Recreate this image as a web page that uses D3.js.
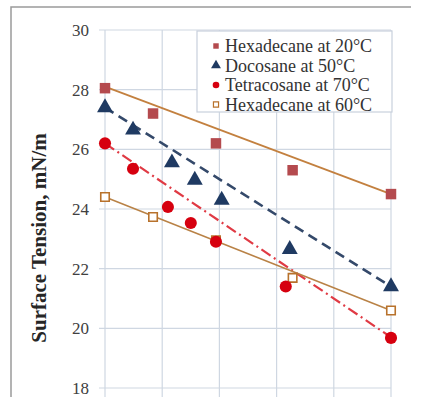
<!DOCTYPE html>
<html>
<head>
<meta charset="utf-8">
<script src="https://cdn.jsdelivr.net/npm/d3@7"></script>
<style>
  body { margin: 0; background: #fff; }
  svg { display: block; }
  text { font-family: "Liberation Serif", "DejaVu Serif", serif; }
</style>
</head>
<body>
<div id="chart"></div>
<script>
// Data
const seriesNames = ['Hexadecane at 20\u00b0C', 'Docosane at 50\u00b0C', 'Tetracosane at 70\u00b0C', 'Hexadecane at 60\u00b0C'];

const hex20X = [0, 0.84, 1.94, 3.28, 5];
const hex20Y = [28.05, 27.2, 26.2, 25.3, 24.5];

const docoX = [0, 0.49, 1.17, 1.57, 2.04, 3.23, 5];
const docoY = [27.4, 26.65, 25.55, 24.97, 24.3, 22.65, 21.4];

const tetraX = [0, 0.49, 1.1, 1.5, 1.94, 3.16, 5];
const tetraY = [26.2, 25.35, 24.07, 23.53, 22.9, 21.4, 19.68];

const hex60X = [0, 0.84, 1.94, 3.28, 5];
const hex60Y = [24.4, 23.73, 22.95, 21.69, 20.6];

// trend line end values (at x = 0 and x = 5)
const trendX = [0, 5];
const hex20Trend = [28.1, 24.5];
const docoTrend = [27.4, 21.4];
const tetraTrend = [26.2, 19.7];
const hex60Trend = [24.4, 20.6];

const yTicks = [18, 20, 22, 24, 26, 28, 30];
const xTicks = [0, 1, 2, 3, 4, 5];

const width = 423;
const height = 397;
const margin = {top: 30, right: 32, bottom: 9, left: 105};

const svg = d3.select('#chart')
    .append('svg')
    .attr('width', width)
    .attr('height', height);

// outer frame (top and left edges visible)
svg.append('path')
    .attr('d', 'M11,397 V7 H411')
    .attr('fill', 'none')
    .attr('stroke', '#9a9a9a')
    .attr('stroke-width', 1.5);

const x = d3.scaleLinear().domain([0, 5]).range([margin.left, width - margin.right]);
const y = d3.scaleLinear().domain([18, 30]).range([height - margin.bottom, margin.top]);

// grid
svg.append('g')
    .selectAll('line')
    .data(yTicks)
    .join('line')
    .attr('x1', x(0) - 6)
    .attr('x2', x(5))
    .attr('y1', d => y(d))
    .attr('y2', d => y(d))
    .attr('stroke', '#cfd7e2')
    .attr('stroke-width', 1.2);

svg.append('g')
    .selectAll('line')
    .data(xTicks)
    .join('line')
    .attr('x1', d => x(d))
    .attr('x2', d => x(d))
    .attr('y1', y(30))
    .attr('y2', height)
    .attr('stroke', '#cfd7e2')
    .attr('stroke-width', 1.2);

// y tick labels
svg.append('g')
    .selectAll('text')
    .data(yTicks)
    .join('text')
    .attr('x', x(0) - 16)
    .attr('y', d => y(d))
    .attr('dy', '0.35em')
    .attr('text-anchor', 'end')
    .attr('font-size', 17)
    .attr('fill', '#404040')
    .text(d => d);

// y axis title
svg.append('text')
    .attr('transform', 'translate(46,238) rotate(-90)')
    .attr('text-anchor', 'middle')
    .attr('font-size', 21)
    .attr('font-weight', 'bold')
    .attr('fill', '#262626')
    .text('Surface Tension, mN/m');

// trend lines
const trends = [
    {v: hex20Trend, color: '#c3803f', w: 1.8, dash: null},
    {v: docoTrend, color: '#34496a', w: 2.6, dash: '10,6'},
    {v: tetraTrend, color: '#e03a44', w: 2.2, dash: '11,4,2,4'},
    {v: hex60Trend, color: '#b98246', w: 1.5, dash: null}
];

const line = d3.line().x(d => x(d[0])).y(d => y(d[1]));

svg.append('g')
    .selectAll('path')
    .data(trends)
    .join('path')
    .attr('d', d => line(trendX.map((t, i) => [t, d.v[i]])))
    .attr('fill', 'none')
    .attr('stroke', d => d.color)
    .attr('stroke-width', d => d.w)
    .attr('stroke-dasharray', d => d.dash);

// markers
const sym = {
    square: d3.symbol().type(d3.symbolSquare).size(110),
    triangle: d3.symbol().type(d3.symbolTriangle).size(110),
    circle: d3.symbol().type(d3.symbolCircle).size(115),
    open: d3.symbol().type(d3.symbolSquare).size(72)
};

const series = [
    {xs: hex20X, ys: hex20Y, shape: 'square', fill: '#b44a4e', stroke: 'none'},
    {xs: docoX, ys: docoY, shape: 'triangle', fill: '#1f3a62', stroke: 'none'},
    {xs: hex60X, ys: hex60Y, shape: 'open', fill: '#fff', stroke: '#b8722c'},
    {xs: tetraX, ys: tetraY, shape: 'circle', fill: '#d6000f', stroke: 'none'}
];

series.forEach(s => {
    svg.append('g')
        .selectAll('path')
        .data(s.xs.map((v, i) => [v, s.ys[i]]))
        .join('path')
        .attr('transform', d => `translate(${x(d[0])},${y(d[1])})`)
        .attr('d', sym[s.shape]())
        .attr('fill', s.fill)
        .attr('stroke', s.stroke)
        .attr('stroke-width', 1.6);
});

// legend
const legend = svg.append('g').attr('transform', 'translate(197,31)');
legend.append('rect')
    .attr('width', 195)
    .attr('height', 81)
    .attr('fill', '#fff')
    .attr('stroke', '#c8d0dc')
    .attr('stroke-width', 1.2);

const legendItems = [
    {shape: 'square', fill: '#b44a4e', stroke: 'none', scale: 0.52},
    {shape: 'triangle', fill: '#1f3a62', stroke: 'none', scale: 0.62},
    {shape: 'circle', fill: '#d6000f', stroke: 'none', scale: 0.55},
    {shape: 'open', fill: '#fff', stroke: '#b8722c', scale: 0.6}
];

const rows = legend.selectAll('g.row')
    .data(seriesNames)
    .join('g')
    .attr('class', 'row')
    .attr('transform', (d, i) => `translate(0,${15 + i * 19.5})`);

rows.append('path')
    .attr('transform', (d, i) => `translate(19,0) scale(${legendItems[i].scale})`)
    .attr('d', (d, i) => sym[legendItems[i].shape]())
    .attr('fill', (d, i) => legendItems[i].fill)
    .attr('stroke', (d, i) => legendItems[i].stroke)
    .attr('stroke-width', 2);

rows.append('text')
    .attr('x', 28)
    .attr('dy', '0.35em')
    .attr('font-size', 18)
    .attr('fill', '#333')
    .text(d => d);
</script>
</body>
</html>
